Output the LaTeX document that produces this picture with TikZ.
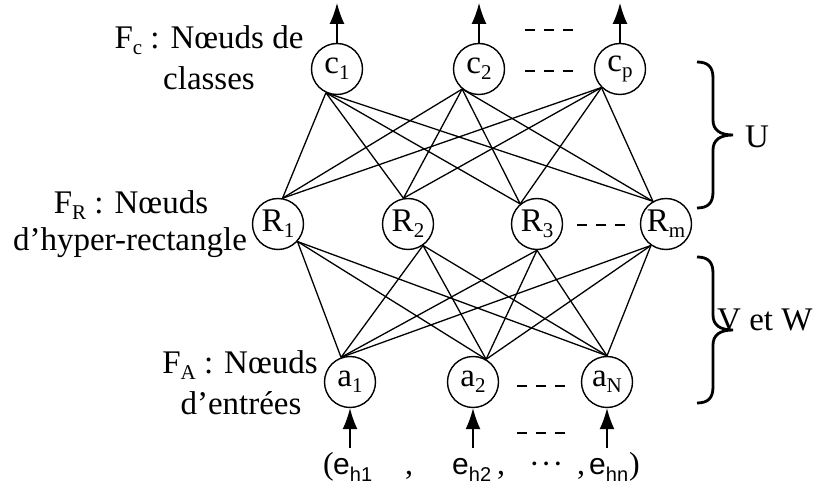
\documentclass[tikz,border=0pt]{standalone}
\usepackage{fontspec}
\setmainfont{Liberation Serif}
\newfontfamily\sansf{Liberation Sans}
\usetikzlibrary{arrows.meta}
\newcommand{\lsub}[1]{\raisebox{-6pt}{\fontsize{21}{21}\selectfont #1}}
\newcommand{\esub}[1]{\raisebox{-7pt}{\fontsize{20}{20}\selectfont\sansf #1}}
\begin{document}
\begin{tikzpicture}[x=1pt,y=-1pt,
  neuron/.style={draw,circle,line width=1.4pt,minimum size=51pt,inner sep=0pt,font=\fontsize{33}{33}\selectfont},
  lab/.style={inner sep=0pt,font=\fontsize{33}{36}\selectfont},
  edge/.style={line width=1.3pt},
  flow/.style={line width=1.3pt,-{Latex[length=21pt,width=15pt]}},
  dashline/.style={line width=1.3pt,dash pattern=on 10pt off 9pt},
  bracepath/.style={line width=2.8pt},
  inp/.style={inner sep=0pt,anchor=base west,font=\fontsize{32}{32}\selectfont},
  ee/.style={inner sep=0pt,anchor=base west,font=\fontsize{30}{30}\selectfont\sansf}]
\useasboundingbox (0,0) rectangle (817,486);
% nodes
\node[neuron] (c1) at (337,69) {c\lsub{1}};
\node[neuron] (c2) at (479,69) {c\lsub{2}};
\node[neuron] (cp) at (620,69) {c\lsub{p}};
\node[neuron] (R1) at (278,224) {R\lsub{1}};
\node[neuron] (R2) at (408,224) {R\lsub{2}};
\node[neuron] (R3) at (537,224) {R\lsub{3}};
\node[neuron] (Rm) at (666,224) {R\lsub{m}};
\node[neuron] (a1) at (350,382) {a\lsub{1}};
\node[neuron] (a2) at (473,382) {a\lsub{2}};
\node[neuron] (aN) at (607,382) {a\lsub{N}};
% connections
\foreach \c/\ca in {c1/-115,c2/-130,cp/-135}
  \foreach \r/\ra in {R1/80,R2/100,R3/130,Rm/120}
    \draw[edge] (\c.\ca) -- (\r.\ra);
\foreach \r/\ra in {R1/-42,R2/-55,R3/-90,Rm/-125}
  \foreach \a/\aa in {a1/110,a2/60,aN/90}
    \draw[edge] (\r.\ra) -- (\a.\aa);
% output arrows
\coordinate (o1) at (337,3);
\coordinate (o2) at (479,3);
\coordinate (op) at (620,3);
\draw[flow] (c1.north) -- (o1);
\draw[flow] (c2.north) -- (o2);
\draw[flow] (cp.north) -- (op);
% input arrows
\coordinate (i1) at (350,448);
\coordinate (i2) at (473,448);
\coordinate (iN) at (607,448);
\draw[flow] (i1) -- (a1.south);
\draw[flow] (i2) -- (a2.south);
\draw[flow] (iN) -- (aN.south);
% dashes
\draw[dashline] (525,30) -- (573,30);
\draw[dashline] (525,71) -- (573,71);
\draw[dashline] (577,225) -- (625,225);
\draw[dashline] (517,386) -- (565,386);
\draw[dashline] (517,433) -- (565,433);
% layer labels
\node[lab] (lc1) at (209,40) {F\lsub{c} : Nœuds de};
\node[lab] (lc2) at (209,78) {classes};
\node[lab] (lr1) at (131,205) {F\lsub{R} : Nœuds};
\node[lab] (lr2) at (130,243) {d’hyper-rectangle};
\node[lab] (la1) at (240,365) {F\lsub{A} : Nœuds};
\node[lab] (la2) at (241,403) {d’entrées};
% inputs
\node[inp] (p1) at (323,474) {(};
\node[ee] (e1) at (333,474) {e\esub{h1}};
\node[inp] (k1) at (405,474) {,};
\node[ee] (e2) at (452,474) {e\esub{h2}};
\node[inp] (k2) at (497,474) {,};
\node[inp] (dd) at (529,474) {·\kern1pt·\kern1pt·};
\node[inp] (k3) at (577,474) {,};
\node[ee] (e3) at (589,474) {e\esub{hn}};
\node[inp] (p2) at (629,474) {)};
% braces
\draw[bracepath] (697,62) .. controls (708,62) and (713,67) .. (713,78) -- (713,120)
  .. controls (713,130) and (720,135) .. (733,135)
  .. controls (720,135) and (713,140) .. (713,150) -- (713,192)
  .. controls (713,203) and (708,208) .. (697,208);
\draw[bracepath] (697,257) .. controls (708,257) and (713,262) .. (713,273) -- (713,315)
  .. controls (713,325) and (720,330) .. (733,330)
  .. controls (720,330) and (713,335) .. (713,345) -- (713,387)
  .. controls (713,398) and (708,403) .. (697,403);
\node[lab] (U) at (757,137) {U};
\node[lab,anchor=west] (VW) at (717,320) {V et W};
\end{tikzpicture}
\end{document}
